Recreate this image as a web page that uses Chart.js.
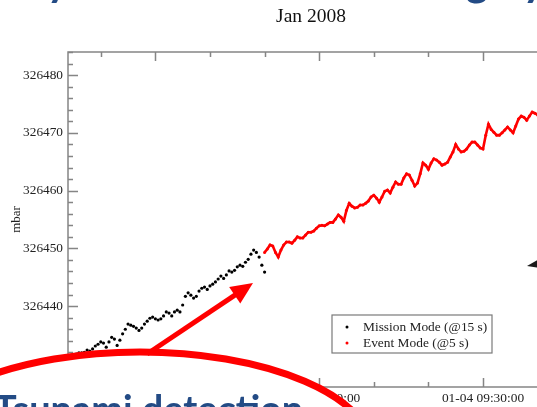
<!DOCTYPE html>
<html>
<head>
<meta charset="utf-8">
<script src="https://cdn.jsdelivr.net/npm/chart.js@4.4.1/dist/chart.umd.min.js"></script>
<style>
  html, body { margin: 0; padding: 0; background: #fff; overflow: hidden; width: 537px; height: 407px; }
  canvas { display: block; }
</style>
</head>
<body>
<canvas id="c" width="580" height="407"></canvas>
<script>
// Bottom pressure record, 4 Jan 2008. Time axis in minutes after midnight.
const missionStart = 494;   // 08:14:00
const missionStep = 0.5;
const missionMode = [
  326430.8, 326431.2, 326431.3, 326431.7, 326431.9, 326431.9, 326432.0, 326432.4, 326432.2, 326432.6,
  326433.1, 326433.4, 326433.8, 326433.6, 326432.9, 326433.8, 326434.6, 326434.3, 326433.2, 326434.1,
  326435.2, 326436.0, 326436.9, 326436.7, 326436.5, 326436.2, 326435.8, 326436.2, 326436.9, 326437.4,
  326437.9, 326438.1, 326437.8, 326437.6, 326437.8, 326438.3, 326439.0, 326438.8, 326438.3, 326439.0,
  326439.3, 326439.0, 326440.2, 326441.7, 326442.3, 326441.9, 326441.4, 326441.7, 326442.6, 326443.1,
  326443.3, 326442.9, 326443.5, 326443.8, 326444.2, 326444.7, 326445.2, 326444.8, 326445.4, 326446.1,
  326445.9, 326446.2, 326446.8, 326447.1, 326446.9, 326447.6, 326448.1, 326449.0, 326449.7, 326449.3,
  326448.5, 326447.1, 326445.9
];

const eventStart = 530;     // 08:50:00
const eventStep = 0.5;
const eventMode = [
  326449.3, 326449.9, 326450.6, 326450.4, 326449.3, 326448.5, 326449.7, 326450.6, 326451.1, 326451.1,
  326450.9, 326451.4, 326452.0, 326451.8, 326451.8, 326452.3, 326452.8, 326452.8, 326453.0, 326453.5,
  326453.9, 326454.0, 326453.9, 326454.2, 326454.5, 326454.5, 326455.1, 326455.8, 326455.4, 326454.7,
  326456.6, 326457.8, 326457.3, 326457.0, 326457.1, 326457.5, 326457.5, 326457.8, 326458.2, 326458.9,
  326459.2, 326458.7, 326458.0, 326458.9, 326459.9, 326460.1, 326459.6, 326460.6, 326461.5, 326461.1,
  326461.1, 326462.2, 326462.9, 326462.7, 326461.8, 326460.8, 326461.3, 326462.9, 326464.8, 326464.4,
  326463.7, 326464.8, 326465.5, 326465.3, 326464.9, 326464.4, 326464.6, 326464.9, 326465.8, 326466.7,
  326468.0, 326467.2, 326466.7, 326466.8, 326467.2, 326467.9, 326468.4, 326468.4, 326467.9, 326467.4,
  326467.2, 326469.6, 326471.5, 326470.6, 326470.1, 326469.6, 326469.6, 326470.0, 326470.5, 326471.0,
  326470.5, 326470.0, 326471.2, 326472.4, 326472.9, 326472.7, 326472.2, 326472.9, 326473.6, 326473.4,
  326473.1, 326473.4, 326473.9, 326473.8, 326474.1, 326474.3, 326474.5
];

const xTickValues = [510, 540, 570];
const xTickLabels = ['01-04 08:30:00', '01-04 09:00:00', '01-04 09:30:00'];
const yTickValues = [326440, 326450, 326460, 326470, 326480];
const yTickLabels = ['326440', '326450', '326460', '326470', '326480'];

const toPoints = (vals, start, step) => vals.map((v, i) => ({ x: start + i * step, y: v }));

const SERIF = '"Liberation Serif", "Times New Roman", serif';
const AXIS_GREY = '#858585';
const SLIDE_BLUE = '#234b85';

// Framed plot with inward major/minor ticks on every side
const frameTicks = {
  id: 'frameTicks',
  beforeDatasetsDraw(chart) {
    const { ctx, chartArea: a, scales: { x, y } } = chart;
    ctx.save();
    ctx.strokeStyle = AXIS_GREY;
    ctx.lineWidth = 1.5;
    ctx.strokeRect(a.left, a.top, a.right - a.left, a.bottom - a.top);
    ctx.beginPath();
    for (let v = Math.ceil(x.min / 10) * 10; v <= x.max; v += 10) {
      const px = Math.round(x.getPixelForValue(v)) + 0.5;
      const len = v % 30 === 0 ? 9 : 5;
      ctx.moveTo(px, a.bottom); ctx.lineTo(px, a.bottom - len);
      ctx.moveTo(px, a.top); ctx.lineTo(px, a.top + len);
    }
    for (let v = Math.ceil(y.min / 2) * 2; v <= y.max; v += 2) {
      const py = Math.round(y.getPixelForValue(v)) + 0.5;
      const len = v % 10 === 0 ? 10 : 5;
      ctx.moveTo(a.left, py); ctx.lineTo(a.left + len, py);
      ctx.moveTo(a.right, py); ctx.lineTo(a.right - len, py);
    }
    ctx.stroke();
    ctx.restore();
  }
};

// Boxed legend in the lower right of the plot
const boxLegend = {
  id: 'boxLegend',
  afterDatasetsDraw(chart) {
    const { ctx, chartArea: a } = chart;
    const bx = a.left + 264, by = a.bottom - 72, bw = 160, bh = 38;
    ctx.save();
    ctx.fillStyle = '#fff';
    ctx.fillRect(bx, by, bw, bh);
    ctx.strokeStyle = '#7a7a7a';
    ctx.lineWidth = 1.2;
    ctx.strokeRect(bx, by, bw, bh);
    ctx.font = '13.4px ' + SERIF;
    ctx.textBaseline = 'middle';
    chart.data.datasets.forEach((ds, i) => {
      const cy = by + 12 + i * 16;
      ctx.fillStyle = ds.backgroundColor;
      ctx.beginPath();
      ctx.arc(bx + 15, cy, 1.5, 0, Math.PI * 2);
      ctx.fill();
      ctx.fillStyle = '#222';
      ctx.fillText(ds.label, bx + 31, cy);
    });
    ctx.restore();
  }
};

// Slide callouts drawn over the chart: heading, oval note and arrows
const callouts = {
  id: 'callouts',
  afterDraw(chart) {
    const ctx = chart.ctx;
    ctx.save();

    // heading line (only its lower edge shows)
    ctx.fillStyle = SLIDE_BLUE;
    const heading = 'Buoy: Automatic Switching by Tsunami Event';
    ctx.font = 'bold 43px Lato';
    ctx.textBaseline = 'alphabetic';
    const pre = ctx.measureText('Bu').width;
    ctx.fillText(heading, 34 - pre - ctx.measureText('y').width / 2, -4);

    // oval note
    ctx.beginPath();
    ctx.ellipse(140, 452, 233, 100, 0, 0, Math.PI * 2);
    ctx.fillStyle = '#fff';
    ctx.fill();
    ctx.lineWidth = 7;
    ctx.strokeStyle = '#ff0000';
    ctx.stroke();

    const note = 'Tsunami detection';
    ctx.font = 'bold 100px Lato';
    const size = 100 * 309 / ctx.measureText(note).width;
    ctx.font = 'bold ' + size.toFixed(1) + 'px Lato';
    ctx.fillStyle = SLIDE_BLUE;
    ctx.fillText(note, -6, 423);

    // red arrow from the oval to the switch-over point
    const x0 = 147, y0 = 354, x1 = 253, y1 = 283;
    const L = Math.hypot(x1 - x0, y1 - y0), ux = (x1 - x0) / L, uy = (y1 - y0) / L;
    const hl = 22, hw = 10;
    const bxh = x1 - ux * hl, byh = y1 - uy * hl;
    ctx.strokeStyle = '#ff0000';
    ctx.lineWidth = 5;
    ctx.beginPath();
    ctx.moveTo(x0, y0);
    ctx.lineTo(bxh + ux * 2, byh + uy * 2);
    ctx.stroke();
    ctx.fillStyle = '#ff0000';
    ctx.beginPath();
    ctx.moveTo(x1, y1);
    ctx.lineTo(bxh - uy * hw, byh + ux * hw);
    ctx.lineTo(bxh + uy * hw, byh - ux * hw);
    ctx.closePath();
    ctx.fill();

    // dark arrow tip entering from the right
    ctx.fillStyle = '#1a1a1a';
    ctx.beginPath();
    ctx.moveTo(527, 266);
    ctx.lineTo(541, 258);
    ctx.lineTo(540, 268);
    ctx.closePath();
    ctx.fill();

    ctx.restore();
  }
};

new Chart(document.getElementById('c'), {
  type: 'scatter',
  data: {
    datasets: [
      {
        label: 'Mission Mode (@15 s)',
        data: toPoints(missionMode, missionStart, missionStep),
        backgroundColor: '#000',
        borderColor: '#000',
        pointRadius: 1.6,
        pointBorderWidth: 0,
        showLine: false
      },
      {
        label: 'Event Mode (@5 s)',
        data: toPoints(eventMode, eventStart, eventStep),
        backgroundColor: '#ff0000',
        borderColor: '#ff0000',
        borderWidth: 2.6,
        pointRadius: 1.5,
        pointBorderWidth: 0,
        showLine: true
      }
    ]
  },
  options: {
    responsive: false,
    animation: false,
    devicePixelRatio: 1,
    layout: { padding: { left: 0, right: 26, top: 0, bottom: 0 } },
    plugins: {
      legend: { display: false },
      tooltip: { enabled: false },
      title: {
        display: true,
        text: 'Jan 2008',
        fullSize: false,
        color: '#111',
        font: { family: SERIF, size: 19.5, weight: 'normal' },
        padding: { top: 5, bottom: 23.6 }
      }
    },
    scales: {
      x: {
        type: 'linear',
        min: 494,
        max: 583,
        grid: { display: false, drawTicks: false },
        border: { display: false },
        afterBuildTicks: s => { s.ticks = xTickValues.map(v => ({ value: v })); },
        afterFit: s => { s.height = 20; },
        ticks: {
          autoSkip: false,
          maxRotation: 0,
          padding: 3,
          color: '#222',
          font: { family: SERIF, size: 13.4 },
          callback: (v, i) => xTickLabels[i]
        }
      },
      y: {
        min: 326426,
        max: 326484,
        grid: { display: false, drawTicks: false },
        border: { display: false },
        afterBuildTicks: s => { s.ticks = yTickValues.map(v => ({ value: v })); },
        afterFit: s => { s.width = 68; },
        ticks: {
          autoSkip: false,
          padding: 5,
          color: '#222',
          font: { family: SERIF, size: 13.3 },
          callback: (v, i) => yTickLabels[i]
        },
        title: {
          display: true,
          text: 'mbar',
          color: '#222',
          font: { family: SERIF, size: 13 },
          padding: { top: 9, bottom: 0 }
        }
      }
    }
  },
  plugins: [frameTicks, boxLegend, callouts]
});
</script>
</body>
</html>
